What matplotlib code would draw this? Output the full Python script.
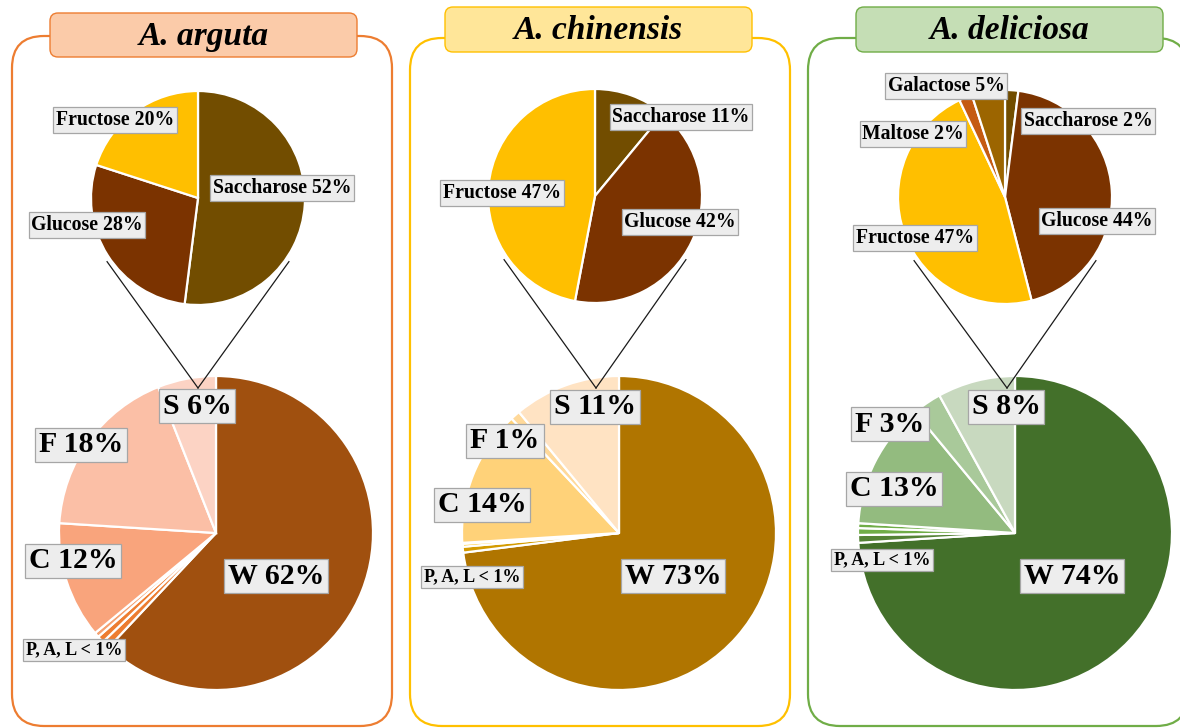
import numpy as np
import matplotlib.pyplot as plt
from matplotlib.patches import FancyBboxPatch

plt.rcParams['font.family'] = ['Liberation Serif', 'DejaVu Serif']

W_PX, H_PX = 1180, 728

# species
species = ['A. arguta', 'A. chinensis', 'A. deliciosa']

# sugar composition (small pies), clockwise from 12 o'clock
sugar_names = [
    ['Saccharose', 'Glucose', 'Fructose'],
    ['Saccharose', 'Glucose', 'Fructose'],
    ['Saccharose', 'Glucose', 'Fructose', 'Maltose', 'Galactose'],
]
sugar_vals = [
    [52, 28, 20],
    [11, 42, 47],
    [2, 44, 47, 2, 5],
]

# fruit composition (big pies): W, P, A, L, C, F, S
comp_names = ['W', 'P', 'A', 'L', 'C', 'F', 'S']
arguta_comp = [62, 0.8, 0.7, 0.5, 12, 18, 6]
chinensis_comp = [73, 0.6, 0.3, 0.1, 14, 1, 11]
deliciosa_comp = [74, 0.8, 0.7, 0.5, 13, 3, 8]
comp_vals = [arguta_comp, chinensis_comp, deliciosa_comp]

# styles
sugar_colors = {'Saccharose': '#724D00', 'Glucose': '#7B3300', 'Fructose': '#FFBF00',
                'Maltose': '#C55A11', 'Galactose': '#9C6500'}
comp_colors = [
    ['#A0500F', '#ED7D31', '#ED7D31', '#F4A070', '#F9A47C', '#FBBFA6', '#FCD3C4'],
    ['#B07500', '#D49B00', '#FFC000', '#FFD24D', '#FFD279', '#FFD99A', '#FFE3C3'],
    ['#43702A', '#548235', '#70AD47', '#70AD47', '#93BB7F', '#A9C99A', '#C8D9BF'],
]
edge_colors = ['#ED7D31', '#FFC000', '#70AD47']
title_fills = ['#FBCBA9', '#FFE699', '#C5DEB5']

# layout (pixel coords, y downward)
panel_boxes = [(12, 36, 392, 726), (410, 38, 790, 726), (808, 38, 1188, 726)]
title_boxes = [(50, 13, 357, 57), (445, 7, 752, 52), (856, 7, 1163, 52)]
small_centers = [(198, 198), (595, 196), (1005, 197)]
big_centers = [(216, 533), (619, 533), (1015, 533)]
apex = [(198, 388), (596, 388), (1007, 388)]
r_small, r_big = 107, 157

sugar_label_pos = [
    {'Fructose': (115, 120), 'Glucose': (87, 225), 'Saccharose': (282, 188)},
    {'Saccharose': (681, 117), 'Fructose': (502, 193), 'Glucose': (680, 222)},
    {'Galactose': (946, 86), 'Saccharose': (1088, 121), 'Maltose': (913, 134),
     'Glucose': (1097, 221), 'Fructose': (915, 238)},
]
comp_label_pos = [
    {'S': (197, 406), 'F': (81, 445), 'C': (73, 561), 'W': (276, 576), 'PAL': (74, 650)},
    {'S': (595, 407), 'F': (505, 441), 'C': (482, 505), 'W': (673, 576), 'PAL': (472, 577)},
    {'S': (1006, 407), 'F': (890, 424), 'C': (894, 489), 'W': (1072, 576), 'PAL': (882, 560)},
]


def fy(y):
    return H_PX - y


fig = plt.figure(figsize=(11.8, 7.28), dpi=100)
ax = fig.add_axes([0, 0, 1, 1])

label_box = dict(boxstyle='square,pad=0.13', fc='#EDEDED', ec='#A6A6A6', lw=0.9)

for i in range(3):
    # panel frame
    x0, y0, x1, y1 = panel_boxes[i]
    ax.add_patch(FancyBboxPatch((x0, fy(y1)), x1 - x0, y1 - y0,
                                boxstyle='round,pad=0,rounding_size=32',
                                fc='white', ec=edge_colors[i], lw=1.6, zorder=0))
    tx0, ty0, tx1, ty1 = title_boxes[i]
    ax.add_patch(FancyBboxPatch((tx0, fy(ty1)), tx1 - tx0, ty1 - ty0,
                                boxstyle='round,pad=0,rounding_size=8',
                                fc=title_fills[i], ec=edge_colors[i], lw=1.0, zorder=1))
    ax.text((tx0 + tx1) / 2, fy((ty0 + ty1) / 2) - 1, species[i], ha='center', va='center',
            fontsize=24, fontweight='bold', fontstyle='italic', zorder=2)

    # small pie
    cx, cy = small_centers[i]
    ax.pie(sugar_vals[i], colors=[sugar_colors[n] for n in sugar_names[i]],
           startangle=90, counterclock=False, radius=r_small, center=(cx, fy(cy)),
           wedgeprops=dict(edgecolor='white', linewidth=1.6))
    for n, v in zip(sugar_names[i], sugar_vals[i]):
        lx, ly = sugar_label_pos[i][n]
        ax.text(lx, fy(ly), f'{n} {v}%', ha='center', va='center', fontsize=14.2,
                fontweight='bold', bbox=label_box, zorder=6)

    # big pie
    bx, by = big_centers[i]
    ax.pie(comp_vals[i], colors=comp_colors[i], startangle=90, counterclock=False,
           radius=r_big, center=(bx, fy(by)),
           wedgeprops=dict(edgecolor='white', linewidth=1.6))
    for n, v in zip(comp_names, comp_vals[i]):
        if n in ('P', 'A', 'L'):
            continue
        lx, ly = comp_label_pos[i][n]
        ax.text(lx, fy(ly), f'{n} {v:g}%', ha='center', va='center', fontsize=21.5,
                fontweight='bold', bbox=label_box, zorder=6)
    lx, ly = comp_label_pos[i]['PAL']
    ax.text(lx, fy(ly), 'P, A, L < 1%', ha='center', va='center', fontsize=13,
            fontweight='bold', bbox=label_box, zorder=6)

    # connector lines from sugar pie to S slice
    axx, axy = apex[i]
    for ang in (215, -35):
        sx = cx + 111 * np.cos(np.radians(ang))
        sy = cy - 111 * np.sin(np.radians(ang))
        ax.plot([sx, axx], [fy(sy), fy(axy)], color='#1A1A1A', lw=0.9, zorder=5)

ax.set_xlim(0, W_PX)
ax.set_ylim(0, H_PX)
ax.set_aspect('equal')
ax.axis('off')

fig.savefig('out.png', dpi=100)
